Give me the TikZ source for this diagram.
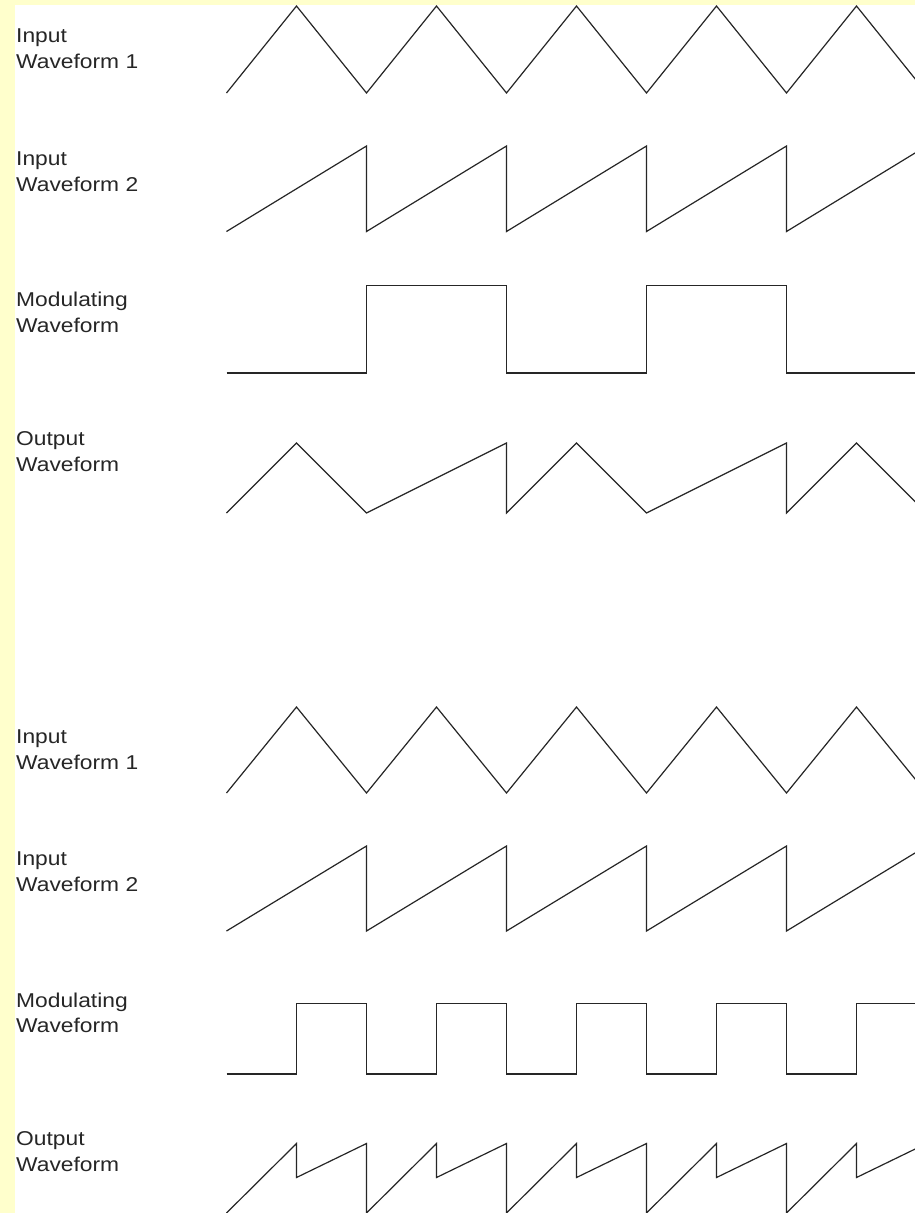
\documentclass[tikz,border=0pt]{standalone}
\usepackage{fontspec}
\newfontfamily\labelfont[FakeStretch=1.14]{Liberation Sans}
\definecolor{bgyellow}{HTML}{FFFFCC}
\begin{document}
\begin{tikzpicture}[x=1pt,y=-1pt,
  wave/.style={line width=1.2pt, black!85, line join=miter},
  sqwave/.style={line width=1.6pt, black!85},
  lbl/.style={anchor=base west, inner sep=0pt, font=\labelfont\fontsize{20}{26}\selectfont, text=black!85}]
\useasboundingbox (0,0) rectangle (915,1213);
\fill[bgyellow] (0,0) rectangle (915,1213);
\fill[white] (15,5) rectangle (915,1213);

% labels, section 1
\node[lbl] (a1) at (16,42) {Input};
\node[lbl] (a2) at (16,68) {Waveform 1};
\node[lbl] (b1) at (16,165) {Input};
\node[lbl] (b2) at (16,191) {Waveform 2};
\node[lbl] (c1) at (16,306) {Modulating};
\node[lbl] (c2) at (16,332) {Waveform};
\node[lbl] (d1) at (16,445) {Output};
\node[lbl] (d2) at (16,471) {Waveform};
% labels, section 2
\node[lbl] (e1) at (16,743) {Input};
\node[lbl] (e2) at (16,769) {Waveform 1};
\node[lbl] (f1) at (16,865) {Input};
\node[lbl] (f2) at (16,891) {Waveform 2};
\node[lbl] (g1) at (16,1007) {Modulating};
\node[lbl] (g2) at (16,1032) {Waveform};
\node[lbl] (h1) at (16,1145) {Output};
\node[lbl] (h2) at (16,1171) {Waveform};

\begin{scope}
\clip (15,5) rectangle (915,1213);
% ---- section 1 ----
% triangle
\draw[wave] (226.5,93) \foreach \k in {0,...,4} { -- ({296.5+140*\k},6) -- ({366.5+140*\k},93) };
% sawtooth
\draw[wave] (226.5,231.5) \foreach \k in {0,...,4} { -- ({366.5+140*\k},146) -- ({366.5+140*\k},231.5) };
% modulating square
\draw[sqwave] (226.5,373) -- (366.5,373) -- (366.5,285.5) -- (506.5,285.5) -- (506.5,373)
  -- (646.5,373) -- (646.5,285.5) -- (786.5,285.5) -- (786.5,373) -- (920,373);
% output
\draw[wave] (226.5,513) -- (296.5,443) -- (366.5,513) -- (506.5,443) -- (506.5,513)
  -- (576.5,443) -- (646.5,513) -- (786.5,443) -- (786.5,513) -- (856.5,443) -- (926.5,513);
% ---- section 2 ----
\draw[wave] (226.5,793) \foreach \k in {0,...,4} { -- ({296.5+140*\k},707) -- ({366.5+140*\k},793) };
\draw[wave] (226.5,931) \foreach \k in {0,...,4} { -- ({366.5+140*\k},846) -- ({366.5+140*\k},931) };
\draw[sqwave] (226.5,1074) \foreach \k in {0,...,4} { -- ({296.5+140*\k},1074) -- ({296.5+140*\k},1003.5) -- ({366.5+140*\k},1003.5) -- ({366.5+140*\k},1074) };
\draw[wave] (226.5,1213) \foreach \k in {0,...,4} { -- ({296.5+140*\k},1143.5) -- ({296.5+140*\k},1177.5) -- ({366.5+140*\k},1143.5) -- ({366.5+140*\k},1213) };
\end{scope}
\end{tikzpicture}
\end{document}
